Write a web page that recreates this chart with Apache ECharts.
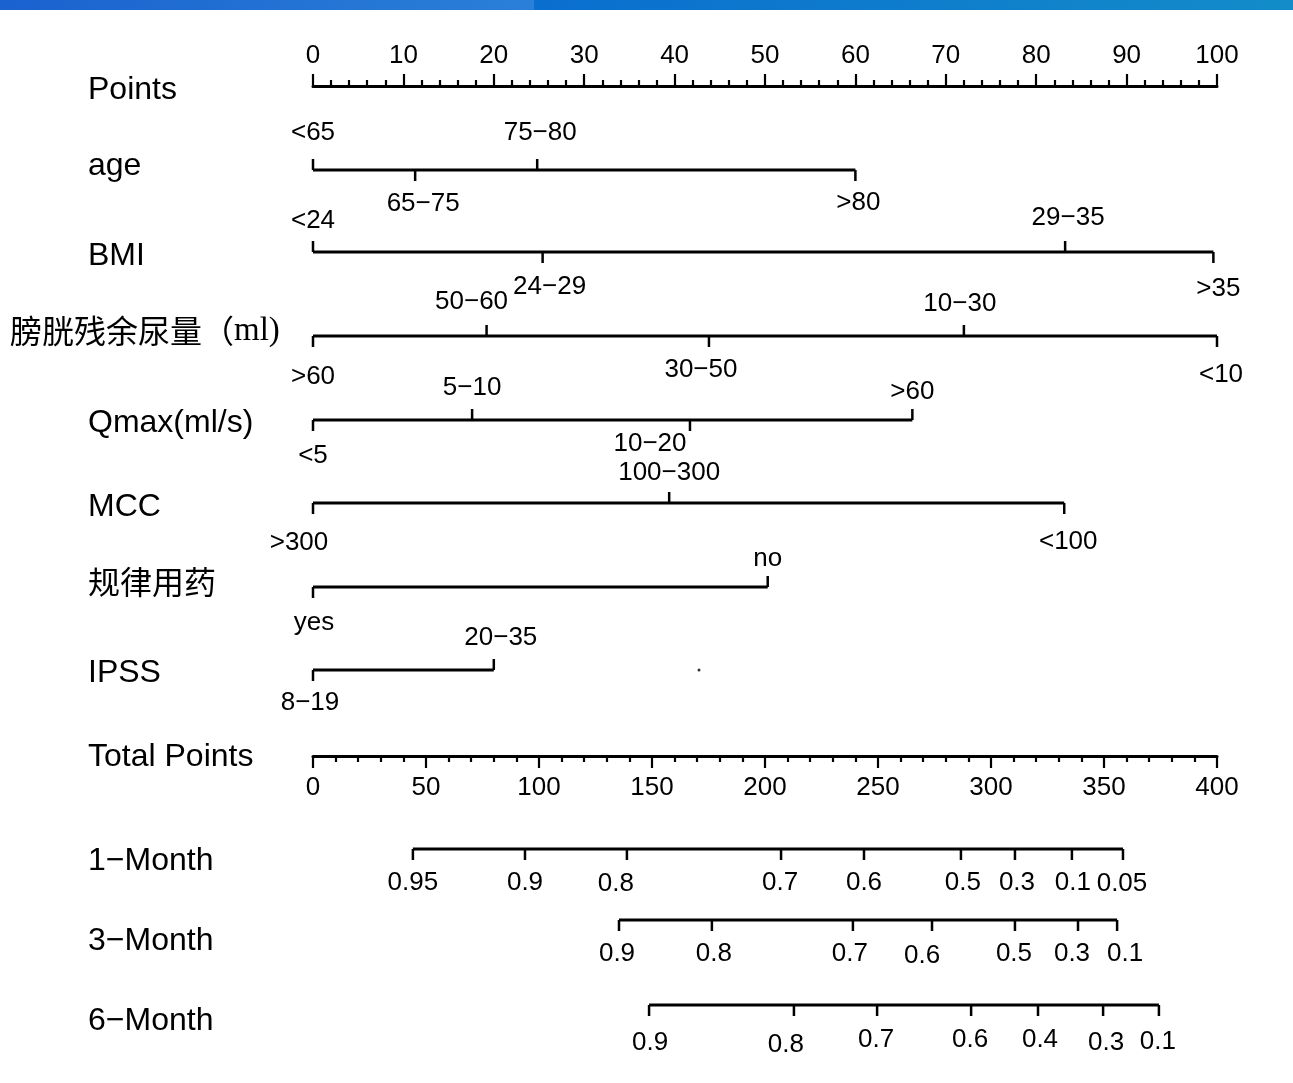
<!DOCTYPE html>
<html><head><meta charset="utf-8">
<script src="https://cdn.jsdelivr.net/npm/echarts@6/dist/echarts.min.js"></script>
<style>html,body{margin:0;padding:0;background:#fff}#c{width:1293px;height:1083px}</style>
</head><body><div id="c"></div>
<script>
// ---------- data ----------
const pointsRange = [0, 100];
const totalRange = [0, 400];

const ageLevels = ['<65', '65\u221275', '75\u221280', '>80'];
const agePoints = [0, 11.3, 24.8, 60];
const bmiLevels = ['<24', '24\u221229', '29\u221235', '>35'];
const bmiPoints = [0, 25.4, 83.2, 99.6];
const pvrLevels = ['>60', '50\u221260', '30\u221250', '10\u221230', '<10'];
const pvrPoints = [0, 19.2, 43.8, 72, 100];
const qmaxLevels = ['<5', '5\u221210', '10\u221220', '>60'];
const qmaxPoints = [0, 17.6, 41.7, 66.3];
const mccLevels = ['>300', '100\u2212300', '<100'];
const mccPoints = [0, 39.4, 83.1];
const drugLevels = ['yes', 'no'];
const drugPoints = [0, 50.3];
const ipssLevels = ['8\u221219', '20\u221235'];
const ipssPoints = [0, 20];
const strayDot = [42.7];

const month1Labels = ['0.95', '0.9', '0.8', '0.7', '0.6', '0.5', '0.3', '0.1', '0.05'];
const month1Points = [44.2, 93.8, 138.9, 207.1, 243.8, 286.7, 310.6, 335.8, 358.4];
const month3Labels = ['0.9', '0.8', '0.7', '0.6', '0.5', '0.3', '0.1'];
const month3Points = [135.4, 176.5, 238.9, 273.9, 310.6, 338.5, 355.8];
const month6Labels = ['0.9', '0.8', '0.7', '0.6', '0.4', '0.3', '0.1'];
const month6Points = [148.7, 212.8, 249.6, 291.2, 320.8, 349.6, 374.3];

// ---------- layout / style ----------
const FONT_TICK = '26px "Liberation Sans", Arial, sans-serif';
const NAME_FONT = '32px "Liberation Sans", Arial, sans-serif';
const GL = 313, GW = 904;

// side: first label above ('up') or below, alternating afterwards; nudges [dx,dy]
const rows = [
  {name: 'age', levels: ageLevels, pts: agePoints, y: 170, nameY: 163, first: 'up', range: pointsRange,
    nudge: [[0, -5], [8, -2], [3, -5], [3, -3]]},
  {name: 'BMI', levels: bmiLevels, pts: bmiPoints, y: 252, nameY: 253, first: 'up', range: pointsRange,
    nudge: [[0, 1], [7, -1], [3, -2], [5, 1]]},
  {name: 'pvr', levels: pvrLevels, pts: pvrPoints, y: 336, nameY: 329, first: 'down', range: pointsRange,
    nudge: [[0, 5], [-15, -2], [-8, -2], [-4, 0], [4, 3]]},
  {name: 'Qmax(ml/s)', levels: qmaxLevels, pts: qmaxPoints, y: 420, nameY: 420, first: 'down', range: pointsRange,
    nudge: [[0, 0], [0, 0], [-40, -12], [0, 4]]},
  {name: 'MCC', levels: mccLevels, pts: mccPoints, y: 503, nameY: 504, first: 'down', range: pointsRange,
    nudge: [[-14, 4], [0, 2], [4, 3]]},
  {name: '规律用药', levels: drugLevels, pts: drugPoints, y: 587, nameY: 581, first: 'down', range: pointsRange,
    nudge: [[1, 0], [0, 4]]},
  {name: 'IPSS', levels: ipssLevels, pts: ipssPoints, y: 670, nameY: 670, first: 'down', range: pointsRange,
    nudge: [[-3, -3], [7, 0]]},
  {name: '1\u2212Month', levels: month1Labels, pts: month1Points, y: 849, nameY: 858, first: 'allDown', range: totalRange,
    nudge: [[0, 0], [0, 0], [-11, 1], [-1, 0], [0, 0], [2, 0], [2, 0], [1, 0], [-1, 1]]},
  {name: '3\u2212Month', levels: month3Labels, pts: month3Points, y: 920, nameY: 938, first: 'allDown', range: totalRange,
    nudge: [[-2, 0], [2, 0], [-3, 0], [-10, 2], [-1, 0], [-6, 0], [8, 0]]},
  {name: '6\u2212Month', levels: month6Labels, pts: month6Points, y: 1005, nameY: 1018, first: 'allDown', range: totalRange,
    nudge: [[1, 4], [-8, 6], [-1, 1], [-1, 1], [2, 1], [3, 4], [-1, 3]]}
];

function isUp(row, j) {
  if (row.first === 'allDown') return false;
  const startUp = row.first === 'up';
  return (j % 2 === 0) ? startUp : !startUp;
}

const grids = [], xAxes = [], yAxes = [], series = [];

// Points axis (grid 0)
grids.push({left: GL, width: GW, top: 86, height: 10});
xAxes.push({gridIndex: 0, type: 'value', position: 'top', min: pointsRange[0], max: pointsRange[1], interval: 10,
  axisLine: {onZero: false, lineStyle: {color: '#000', width: 3}},
  axisTick: {length: 12, lineStyle: {color: '#000', width: 2.2}},
  minorTick: {show: true, splitNumber: 5, length: 6, lineStyle: {color: '#000', width: 2.2}},
  splitLine: {show: false},
  axisLabel: {margin: 17, fontSize: 26, color: '#000', fontFamily: '"Liberation Sans", Arial, sans-serif'}});
yAxes.push({gridIndex: 0, type: 'value', show: false, min: -1, max: 1});

// Total points axis (grid 1)
grids.push({left: GL, width: GW, top: 746, height: 10});
xAxes.push({gridIndex: 1, type: 'value', position: 'bottom', min: totalRange[0], max: totalRange[1], interval: 50,
  axisLine: {onZero: false, lineStyle: {color: '#000', width: 3}},
  axisTick: {length: 12, lineStyle: {color: '#000', width: 2.2}},
  minorTick: {show: true, splitNumber: 5, length: 6, lineStyle: {color: '#000', width: 2.2}},
  splitLine: {show: false},
  axisLabel: {margin: 19, fontSize: 26, color: '#000', fontFamily: '"Liberation Sans", Arial, sans-serif'}});
yAxes.push({gridIndex: 1, type: 'value', show: false, min: -1, max: 1});
series.push({type: 'line', xAxisIndex: 0, yAxisIndex: 0, data: [], silent: true});
series.push({type: 'line', xAxisIndex: 1, yAxisIndex: 1, data: [], silent: true});

rows.forEach((row, i) => {
  const gi = i + 2;
  grids.push({left: GL, width: GW, top: row.y - 10, height: 20});
  xAxes.push({gridIndex: gi, type: 'value', show: false, min: row.range[0], max: row.range[1]});
  yAxes.push({gridIndex: gi, type: 'value', show: false, min: -1, max: 1});
  series.push({type: 'line', xAxisIndex: gi, yAxisIndex: gi, symbol: 'none', silent: true,
    lineStyle: {color: '#000', width: 3},
    data: [[row.pts[0], 0], [row.pts[row.pts.length - 1], 0]]});
  series.push({type: 'custom', xAxisIndex: gi, yAxisIndex: gi, silent: true, clip: false,
    data: row.pts.map((p, j) => [p, j]),
    renderItem: function (params, api) {
      const x = api.value(0), j = api.value(1);
      const c = api.coord([x, 0]);
      const up = isUp(row, j);
      const nd = row.nudge[j] || [0, 0];
      const dy = row.first === 'allDown' ? 34 : (up ? -32 : 36);
      return {type: 'group', children: [
        {type: 'line', shape: {x1: c[0], y1: c[1], x2: c[0], y2: c[1] + (up ? -11 : 11)},
          style: {stroke: '#000', lineWidth: 2.5}},
        {type: 'text', style: {text: row.levels[j], x: c[0] + nd[0], y: c[1] + dy + nd[1],
          align: 'center', verticalAlign: 'middle', font: FONT_TICK, fill: '#000'}}
      ]};
    }});
});

// stray dot in IPSS row
const ipssGrid = rows.findIndex(r => r.name === 'IPSS') + 2;
series.push({type: 'scatter', xAxisIndex: ipssGrid, yAxisIndex: ipssGrid, symbolSize: 3, silent: true,
  itemStyle: {color: '#000'}, data: strayDot.map(v => [v, 0])});

// left-hand names
const graphics = [
  {type: 'rect', x: 0, y: 0, shape: {width: 534, height: 10},
    style: {fill: new echarts.graphic.LinearGradient(0, 0, 1, 0, [{offset: 0, color: '#1a62cf'}, {offset: 1, color: '#2a80d8'}])}},
  {type: 'rect', x: 534, y: 0, shape: {width: 759, height: 10},
    style: {fill: new echarts.graphic.LinearGradient(0, 0, 1, 0, [{offset: 0, color: '#0a6ecf'}, {offset: 1, color: '#138cc9'}])}},
  {type: 'text', x: 88, y: 90, style: {text: 'Points', font: NAME_FONT, fill: '#000', verticalAlign: 'middle'}},
  {type: 'text', x: 88, y: 757, style: {text: 'Total Points', font: NAME_FONT, fill: '#000', verticalAlign: 'middle'}}
];
rows.forEach(row => {
  if (row.name === 'pvr') {
    graphics.push({type: 'text', x: 10, y: row.nameY + 2, style: {
      text: '{c|膀胱残余尿量（}{s|ml)}', verticalAlign: 'middle',
      rich: {c: {fontFamily: '"Noto Sans CJK SC"', fontSize: 32, color: '#000'},
             s: {fontFamily: '"Liberation Serif", serif', fontSize: 33, color: '#000'}}
    }});
  } else if (row.name === '规律用药') {
    graphics.push({type: 'text', x: 88, y: row.nameY + 1, style: {text: row.name, font: '32px "Noto Sans CJK SC"', fill: '#000', verticalAlign: 'middle'}});
  } else {
    graphics.push({type: 'text', x: 88, y: row.nameY + 3, style: {text: row.name, font: NAME_FONT, fill: '#000', verticalAlign: 'middle'}});
  }
});

const chart = echarts.init(document.getElementById('c'), null, {renderer: 'canvas'});
chart.setOption({
  animation: false,
  backgroundColor: '#fff',
  grid: grids, xAxis: xAxes, yAxis: yAxes, series: series, graphic: graphics
});
</script></body></html>
